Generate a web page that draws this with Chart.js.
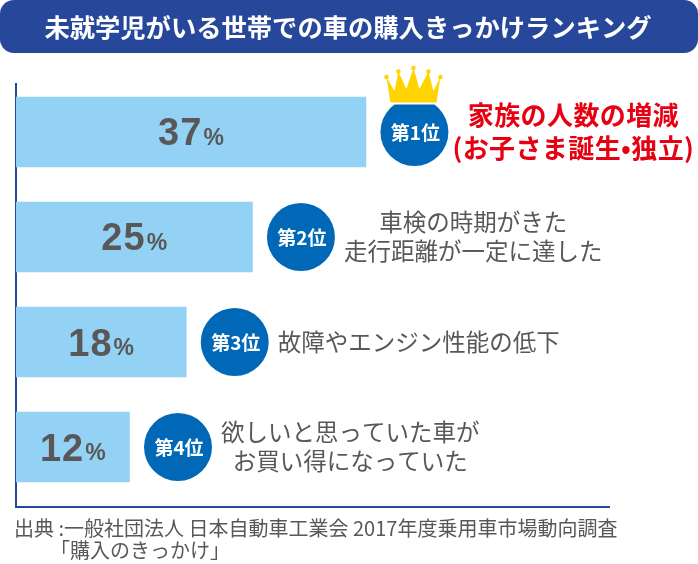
<!DOCTYPE html>
<html lang="ja">
<head>
<meta charset="utf-8">
<style>
  body { margin: 0; background: #fff; }
  canvas { display: block; }
</style>
</head>
<body>
<canvas id="rankChart" width="698" height="564"></canvas>

<script src="https://cdn.jsdelivr.net/npm/chart.js"></script>
<script>
const titleText = '未就学児がいる世帯での車の購入きっかけランキング';
const ranks = ['第1位', '第2位', '第3位', '第4位'];
const percents = [37, 25, 18, 12];
const reasons = [
    ['家族の人数の増減', '(お子さま誕生•独立)'],
    ['車検の時期がきた', '走行距離が一定に達した'],
    ['故障やエンジン性能の低下'],
    ['欲しいと思っていた車が', 'お買い得になっていた']
];
const sourceLines = ['出典 :一般社団法人 日本自動車工業会 2017年度乗用車市場動向調査', '「購入のきっかけ」'];

const NAVY = '#27479a';
const GREY = '#595757';
const JP = '"Noto Sans CJK JP", "Noto Sans", sans-serif';
const NUM_FONT = '700 38px "Liberation Sans", sans-serif';
const PCT_FONT = '700 23px "Liberation Sans", sans-serif';

// title band, badges, crown and the text next to each bar
const decorations = {
    id: 'decorations',
    beforeDraw(chart) {
        const c = chart.ctx;
        c.save();
        c.fillStyle = NAVY;
        c.beginPath();
        c.roundRect(0, 0, 698, 53, 14);
        c.fill();
        c.fillStyle = '#fff';
        c.font = '700 25.3px ' + JP;
        c.textAlign = 'center';
        c.textBaseline = 'middle';
        c.fillText(titleText, 348, 27);
        c.restore();
    },
    afterDraw(chart) {
        const c = chart.ctx;
        const x = chart.scales.x;
        const y = chart.scales.y;
        c.save();
        c.textBaseline = 'middle';

        percents.forEach((v, i) => {
            const end = x.getPixelForValue(v);
            const mid = y.getPixelForValue(i);

            // value, centred inside the bar
            c.fillStyle = GREY;
            c.textAlign = 'left';
            c.letterSpacing = '1px';
            const num = String(v);
            c.font = NUM_FONT;
            const numW = c.measureText(num).width;
            c.font = PCT_FONT;
            const pctW = c.measureText('%').width;
            const startX = (x.getPixelForValue(0) + end - numW - pctW) / 2;
            c.font = NUM_FONT;
            c.fillText(num, startX, mid + 3);
            c.font = PCT_FONT;
            c.fillText('%', startX + numW + 1, mid + 7);
            c.letterSpacing = '0px';

            // rank badge
            const bx = end + 48.5;
            c.fillStyle = '#0068b7';
            c.beginPath();
            c.arc(bx, mid, 34, 0, Math.PI * 2);
            c.fill();
            if (i === 0) drawCrown(c, bx, mid);
            c.fillStyle = '#fff';
            c.textAlign = 'center';
            c.font = '700 19px ' + JP;
            c.fillText(ranks[i], bx + 1, mid + 1);

            // reason text, each block centred on its widest line
            const lines = reasons[i];
            const first = i === 0;
            c.fillStyle = first ? '#e60012' : GREY;
            c.font = (first ? '700 26px ' : '400 23.5px ') + JP;
            c.letterSpacing = first ? '0.4px' : '0px';
            const widest = Math.max(...lines.map(t => c.measureText(t).width));
            const cx = bx + 34 + (first ? 4 : 9) + widest / 2;
            const gap = first ? 33 : 29;
            lines.forEach((t, n) => {
                c.fillText(t, cx, mid + (n - (lines.length - 1) / 2) * gap);
            });
            c.letterSpacing = '0px';
        });

        // source note
        c.fillStyle = GREY;
        c.textAlign = 'left';
        c.font = '400 20px ' + JP;
        c.fillText(sourceLines[0], 14, 528);
        c.fillText(sourceLines[1], 50, 550);
        c.restore();
    }
};

function drawCrown(c, bx, mid) {
    const top = mid - 64;
    const tips = [[-28, 9], [-16, 3.5], [-1, 0], [14, 3.5], [26, 9]];
    const valleys = [[-20, 23], [-8, 21], [5, 21], [19, 23]];
    c.fillStyle = '#ffd400';
    c.strokeStyle = '#fff';
    c.lineWidth = 2;
    c.beginPath();
    c.moveTo(bx - 24, top + 35);
    tips.forEach(([dx, dy], n) => {
        c.lineTo(bx + dx, top + dy);
        if (valleys[n]) c.lineTo(bx + valleys[n][0], top + valleys[n][1]);
    });
    c.lineTo(bx + 22, top + 35);
    c.closePath();
    c.fill();
    c.beginPath();
    tips.forEach(([dx, dy]) => {
        c.moveTo(bx + dx + 2.3, top + dy);
        c.arc(bx + dx, top + dy, 2.3, 0, Math.PI * 2);
    });
    c.fill();
    c.beginPath();
    c.moveTo(bx - 25, top + 35.5);
    c.lineTo(bx + 23, top + 35.5);
    c.stroke();
}

new Chart(document.getElementById('rankChart').getContext('2d'), {
    type: 'bar',
    data: {
        datasets: [{
            data: percents.map((v, i) => ({ x: v, y: i })),
            backgroundColor: '#93d2f5',
            barThickness: 70
        }]
    },
    plugins: [decorations],
    options: {
        indexAxis: 'y',
        responsive: false,
        animation: false,
        layout: { padding: { left: 16, right: 89, top: 84, bottom: 57 } },
        plugins: {
            legend: { display: false },
            tooltip: { enabled: false }
        },
        scales: {
            x: {
                type: 'linear',
                min: 0,
                max: 62.7,
                grid: { display: false, drawTicks: false },
                ticks: { display: false },
                border: { color: NAVY, width: 2 }
            },
            y: {
                type: 'linear',
                reverse: true,
                offset: false,
                min: -0.457,
                max: 3.571,
                grid: { display: false, drawTicks: false },
                ticks: { display: false },
                border: { color: NAVY, width: 2 }
            }
        }
    }
});
</script>
</body>
</html>
